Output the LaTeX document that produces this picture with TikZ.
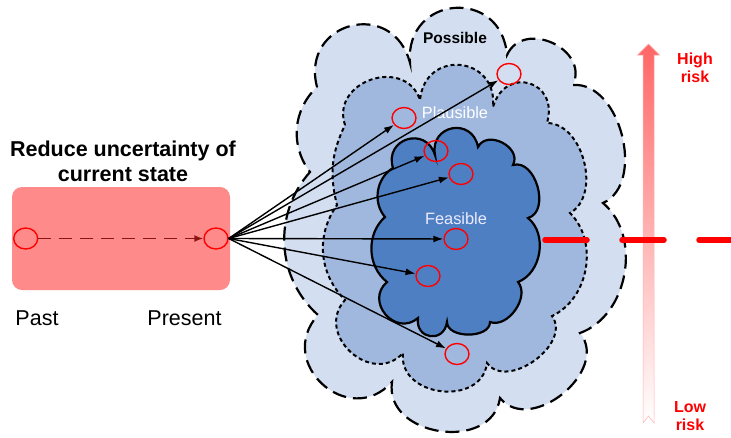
\documentclass[tikz,border=0pt]{standalone}
\usepackage{fontspec}
\setmainfont{Liberation Sans}
\usetikzlibrary{shapes.geometric,arrows.meta}

\definecolor{boxred}{RGB}{255,138,138}
\definecolor{possible}{RGB}{211,223,241}
\definecolor{plausible}{RGB}{160,184,222}
\definecolor{feasible}{RGB}{79,127,195}
\definecolor{darkred}{RGB}{140,20,20}

\begin{document}
\begin{tikzpicture}%
  [x=1pt,y=-1pt,
   cloud line/.style={draw=black,line width=2.2}]
  \tikzstyle{state node}=[ellipse,draw=red,line width=1.4,minimum width=24,minimum height=21,inner sep=0]
  \tikzstyle{big text}=[font=\fontsize{21.5}{25}\selectfont]
  \tikzstyle{risk text}=[text=red,align=center,font=\fontsize{16}{18}\selectfont\bfseries]
  \useasboundingbox (0,0) rectangle (731,437);
  % the three clouds
  \path[cloud line,fill=possible,dash pattern=on 14pt off 7pt]
    (317,87) to[bend left=90,looseness=1.8] (410,63)
    to[bend left=90,looseness=1.8] (507,55)
    to[bend left=90,looseness=1.4] (573,85)
    to[bend left=80] (603,203)
    to[bend left=60] (580,333)
    to[bend left=90,looseness=1.2] (500,398)
    to[bend left=90,looseness=1.3] (392,382)
    to[bend left=90,looseness=1.65] (318,315)
    to[bend left=45] (310,172)
    to[bend left=42] (317,87) -- cycle;
  \path[cloud line,line width=2,fill=plausible,dash pattern=on 4pt off 3pt]
    (345,125) to[bend left=90,looseness=1.5] (420,100)
    to[bend left=90,looseness=1.8] (493,107)
    to[bend left=90,looseness=2] (547,123)
    to[bend left=75] (570,213)
    to[bend left=55] (552,316)
    to[bend left=90,looseness=1.1] (487,363)
    to[bend left=90,looseness=1.35] (403,353)
    to[bend left=90,looseness=1.5] (345,300)
    to[bend left=40] (337,205)
    to[bend left=20] (345,125) -- cycle;
  \path[cloud line,fill=feasible]
    (393,168) to[bend left=90,looseness=1.8] (435,155)
    to[bend left=90,looseness=1.8] (478,147)
    to[bend left=90,looseness=1.3] (513,165)
    to[bend left=90,looseness=1.1] (528,218)
    to[bend left=60] (518,282)
    to[bend left=75] (490,322)
    to[bend left=90] (447,322)
    to[bend left=90,looseness=1.9] (418,318)
    to[bend left=90,looseness=1.6] (387,282)
    to[bend left=50] (385,217)
    to[bend left=50] (393,168) -- cycle;
  \node[font=\fontsize{15.5}{18}\selectfont\bfseries,anchor=base] (possible) at (455,43) {Possible};
  \node[font=\fontsize{16.3}{18}\selectfont,text=white,anchor=base] (plausible) at (455,118) {Plausible};
  \node[font=\fontsize{16.4}{18}\selectfont,text=white!92!blue,anchor=base] (feasible) at (456,224) {Feasible};
  % risk scale
  \shade[top color=red!60,bottom color=white,draw=red!30,line width=0.5]
    (643,423) -- (648.5,416) -- (654,423) -- (654,55) -- (659.5,55)
    -- (648.5,44) -- (637.5,55) -- (643,55) -- cycle;
  \coordinate (risk start) at (545,240);
  \coordinate (risk end) at (740,240);
  \draw[red,line width=5.5,line cap=round,dash pattern=on 42pt off 35pt] (risk start) -- (risk end);
  \node[risk text] (high) at (695,68) {High\\risk};
  \node[risk text] (low) at (690,416) {Low\\risk};
  % current state
  \node[rectangle,rounded corners=10,fill=boxred,minimum width=218,minimum height=103] (box) at (121,238.5) {};
  \node[big text,align=center,font=\fontsize{21.5}{25}\selectfont\bfseries] (title) at (123,161) {Reduce uncertainty of\\current state};
  \node[state node] (past) at (25.7,238.5) {};
  \node[state node] (present) at (216,238.5) {};
  \node[big text,anchor=base] (pastlabel) at (37,325) {Past};
  \node[big text,anchor=base] (presentlabel) at (184.5,325) {Present};
  \draw[darkred,line width=1.7,dash pattern=on 13pt off 8pt,-{Latex[length=9pt,width=7pt]}] (past) -- (present);
  % future states
  \node[state node] (s1) at (509,74) {};
  \node[state node] (s2) at (404,118) {};
  \node[state node] (s3) at (436,151) {};
  \node[state node] (s4) at (461,174) {};
  \node[state node] (s5) at (456,239) {};
  \node[state node] (s6) at (428,276) {};
  \node[state node] (s7) at (457,354) {};
  \foreach \s in {s1,s2,s3,s4,s5,s6,s7}
    \draw[line width=1.4,-{Latex[length=10pt,width=7pt]}] (present.east) -- (\s);
\end{tikzpicture}
\end{document}
